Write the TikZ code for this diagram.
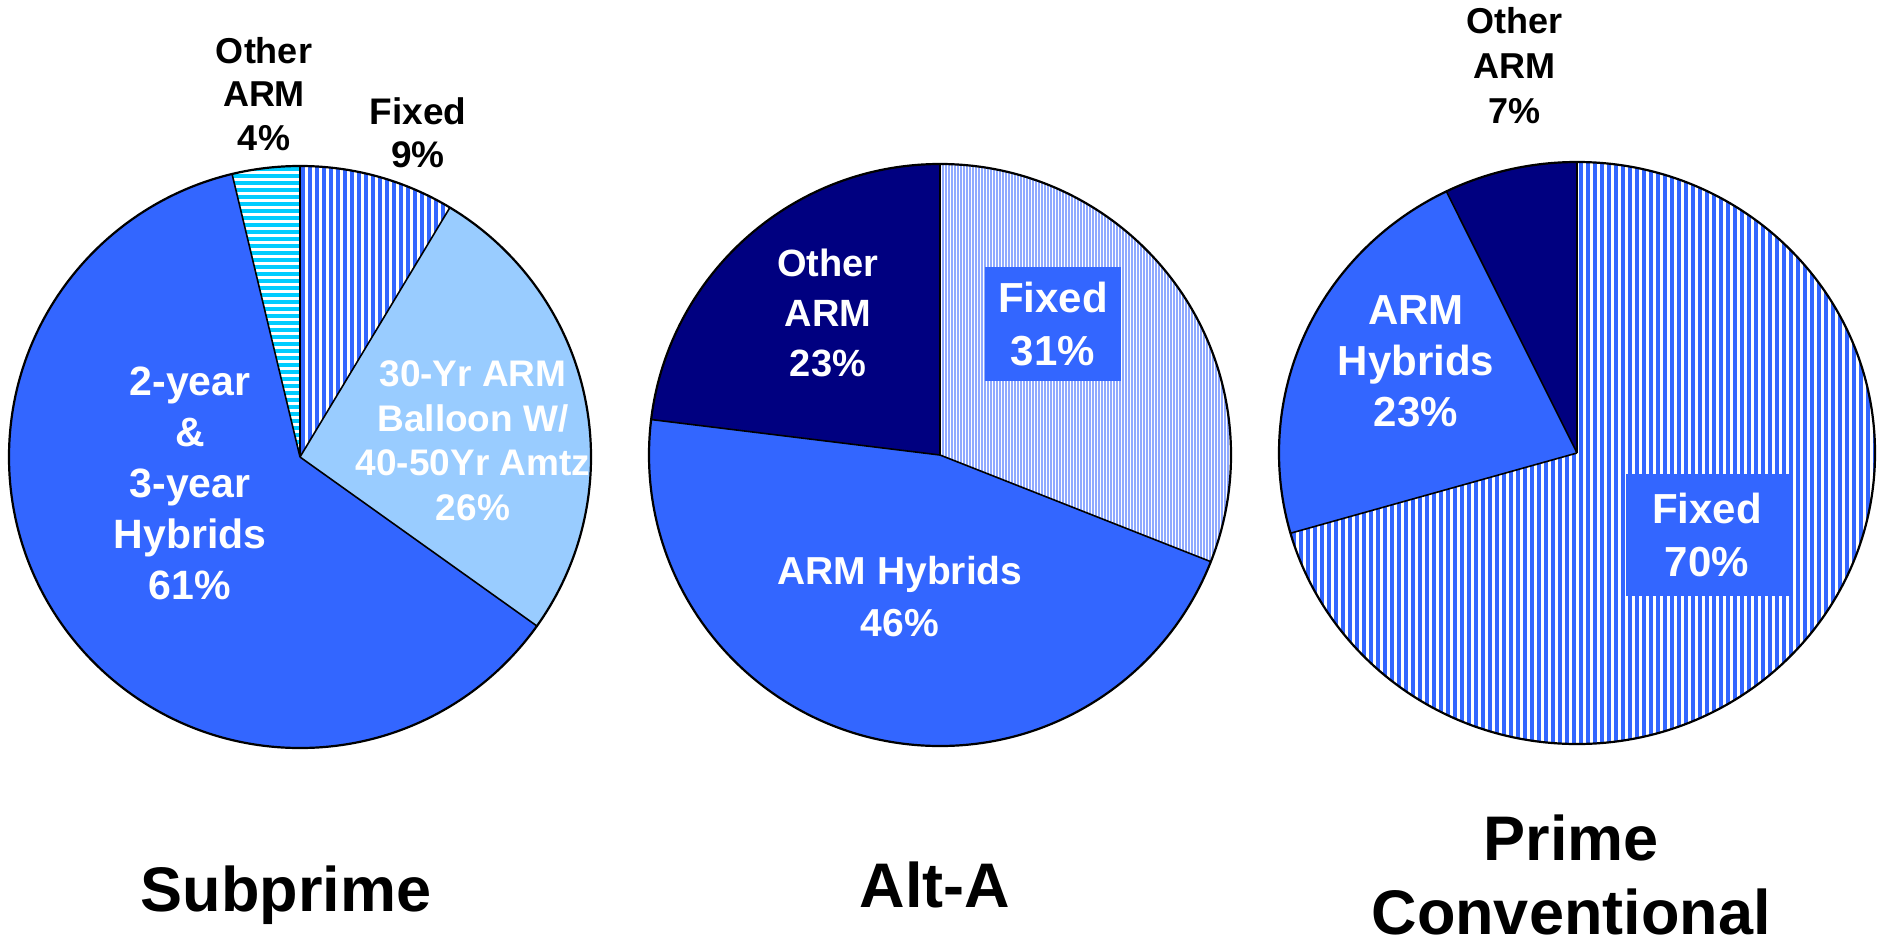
\documentclass[tikz,border=0pt]{standalone}
\usepackage{fontspec}
\setmainfont{Liberation Sans}
\definecolor{chartblue}{HTML}{3366FF}
\definecolor{navy}{HTML}{000080}
\definecolor{paleblue}{HTML}{99CCFF}
\definecolor{skycyan}{HTML}{00CCFF}
\definecolor{periwinkle}{HTML}{90AAFF}
\tikzset{
  txt/.style 2 args={font=\bfseries\fontsize{#1}{#2}\selectfont, align=center, anchor=north},
  inlabel/.style 2 args={txt={#1}{#2}, text=white},
  outlabel/.style 2 args={txt={#1}{#2}, text=black},
  labelbox/.style={fill=chartblue, text=white, align=center, anchor=center,
                   font=\bfseries\fontsize{42}{53}\selectfont},
  rim/.style={draw=black, line width=2.2pt},
  divider/.style={draw=black, line width=1.6pt},
  vstripe/.style={chartblue, line width=4pt},
}
\begin{document}
\begin{tikzpicture}[x=1pt, y=1pt, every node/.style={inner sep=0pt, outer sep=0pt}]
\useasboundingbox (0,-948) rectangle (1881,0);
\fill[white] (0,-948) rectangle (1881,0);

% ---------------- Subprime ----------------
\coordinate (c1) at (300,-457);
% 2-year & 3-year hybrids
\fill[chartblue] (c1) -- ++(-35.5:291pt) arc[start angle=-35.5, end angle=-256.5, radius=291pt] -- cycle;
% 30-Yr ARM balloon
\fill[paleblue] (c1) -- ++(59:291pt) arc[start angle=59, end angle=-35.5, radius=291pt] -- cycle;
% Fixed: vertical stripes
\begin{scope}
  \clip (c1) -- ++(90:291pt) arc[start angle=90, end angle=59, radius=291pt] -- cycle;
  \fill[white] (290,-150) rectangle (470,-470);
  \foreach \x in {303,310,...,470} \draw[vstripe] (\x,-150) -- (\x,-470);
\end{scope}
% Other ARM: horizontal stripes
\begin{scope}
  \clip (c1) -- ++(103.5:291pt) arc[start angle=103.5, end angle=90, radius=291pt] -- cycle;
  \fill[white] (220,-150) rectangle (310,-470);
  \foreach \y in {-169,-176,...,-470} \draw[skycyan, line width=4pt] (220,\y) -- (310,\y);
\end{scope}
\draw[divider] (c1) -- ++(90:291pt);
\draw[divider] (c1) -- ++(59:291pt);
\draw[divider] (c1) -- ++(-35.5:291pt);
\draw[divider] (c1) -- ++(103.5:291pt);
\draw[rim] (c1) circle[radius=291pt];

\node[inlabel={41}{51}] (sub2yr) at (190,-367) {2-year\\\&\\3-year\\Hybrids\\61\%};
\node[inlabel={37}{44.5}] (subballoon) at (473,-361) {30-Yr ARM\\Balloon W/\\40-50Yr Amtz\\26\%};
\node[outlabel={36}{43.5}] (subother) at (264,-37) {Other\\ARM\\4\%};
\node[outlabel={37}{43}] (subfixed) at (418,-98) {Fixed\\9\%};
\node[txt={63}{76}] (subtitle) at (286,-866) {Subprime};

% ---------------- Alt-A ----------------
\coordinate (c2) at (940,-455);
\fill[chartblue] (c2) -- ++(-21.5:291pt) arc[start angle=-21.5, end angle=-187, radius=291pt] -- cycle;
\fill[navy] (c2) -- ++(173:291pt) arc[start angle=173, end angle=90, radius=291pt] -- cycle;
% Fixed: fine vertical hatching
\begin{scope}
  \clip (c2) -- ++(90:291pt) arc[start angle=90, end angle=-21.5, radius=291pt] -- cycle;
  \fill[periwinkle] (930,-150) rectangle (1240,-580);
  \foreach \x in {941.5,944.5,...,1240} \draw[white, line width=0.9pt] (\x,-150) -- (\x,-580);
\end{scope}
\draw[divider] (c2) -- ++(90:291pt);
\draw[divider] (c2) -- ++(-21.5:291pt);
\draw[divider] (c2) -- ++(173:291pt);
\draw[rim] (c2) circle[radius=291pt];

\node[inlabel={38}{50}] (altother) at (828,-249) {Other\\ARM\\23\%};
\node[labelbox, minimum width=136pt, minimum height=114pt] (altfixed) at (1053,-324) {Fixed\\31\%};
\node[inlabel={39}{52}] (althybrid) at (900,-556) {ARM Hybrids\\46\%};
\node[txt={63}{76}] (alttitle) at (935,-862) {Alt-A};

% ---------------- Prime Conventional ----------------
\coordinate (c3) at (1577,-453);
\fill[navy] (c3) -- ++(90:298pt and 291pt) arc[start angle=90, end angle=116, x radius=298pt, y radius=291pt] -- cycle;
\fill[chartblue] (c3) -- ++(116:298pt and 291pt) arc[start angle=116, end angle=196, x radius=298pt, y radius=291pt] -- cycle;
% Fixed: vertical stripes
\begin{scope}
  \clip (c3) -- ++(196:298pt and 291pt) arc[start angle=196, end angle=450, x radius=298pt, y radius=291pt] -- cycle;
  \fill[white] (1270,-150) rectangle (1881,-760);
  \foreach \x in {1280,1287,...,1881} \draw[vstripe] (\x,-150) -- (\x,-760);
\end{scope}
\draw[divider] (c3) -- ++(90:298pt and 291pt);
\draw[divider] (c3) -- ++(116:298pt and 291pt);
\draw[divider] (c3) -- ++(196:298pt and 291pt);
\draw[rim] (c3) circle[x radius=298pt, y radius=291pt];

\node[inlabel={42}{51}] (primehybrid) at (1416,-296) {ARM\\Hybrids\\23\%};
\node[labelbox, minimum width=163pt, minimum height=122pt] (primefixed) at (1707,-535) {Fixed\\70\%};
\node[outlabel={36}{45}] (primeother) at (1514,-7) {Other\\ARM\\7\%};
\node[txt={63}{74}] (primetitle) at (1571,-815) {Prime\\Conventional};
\end{tikzpicture}
\end{document}
